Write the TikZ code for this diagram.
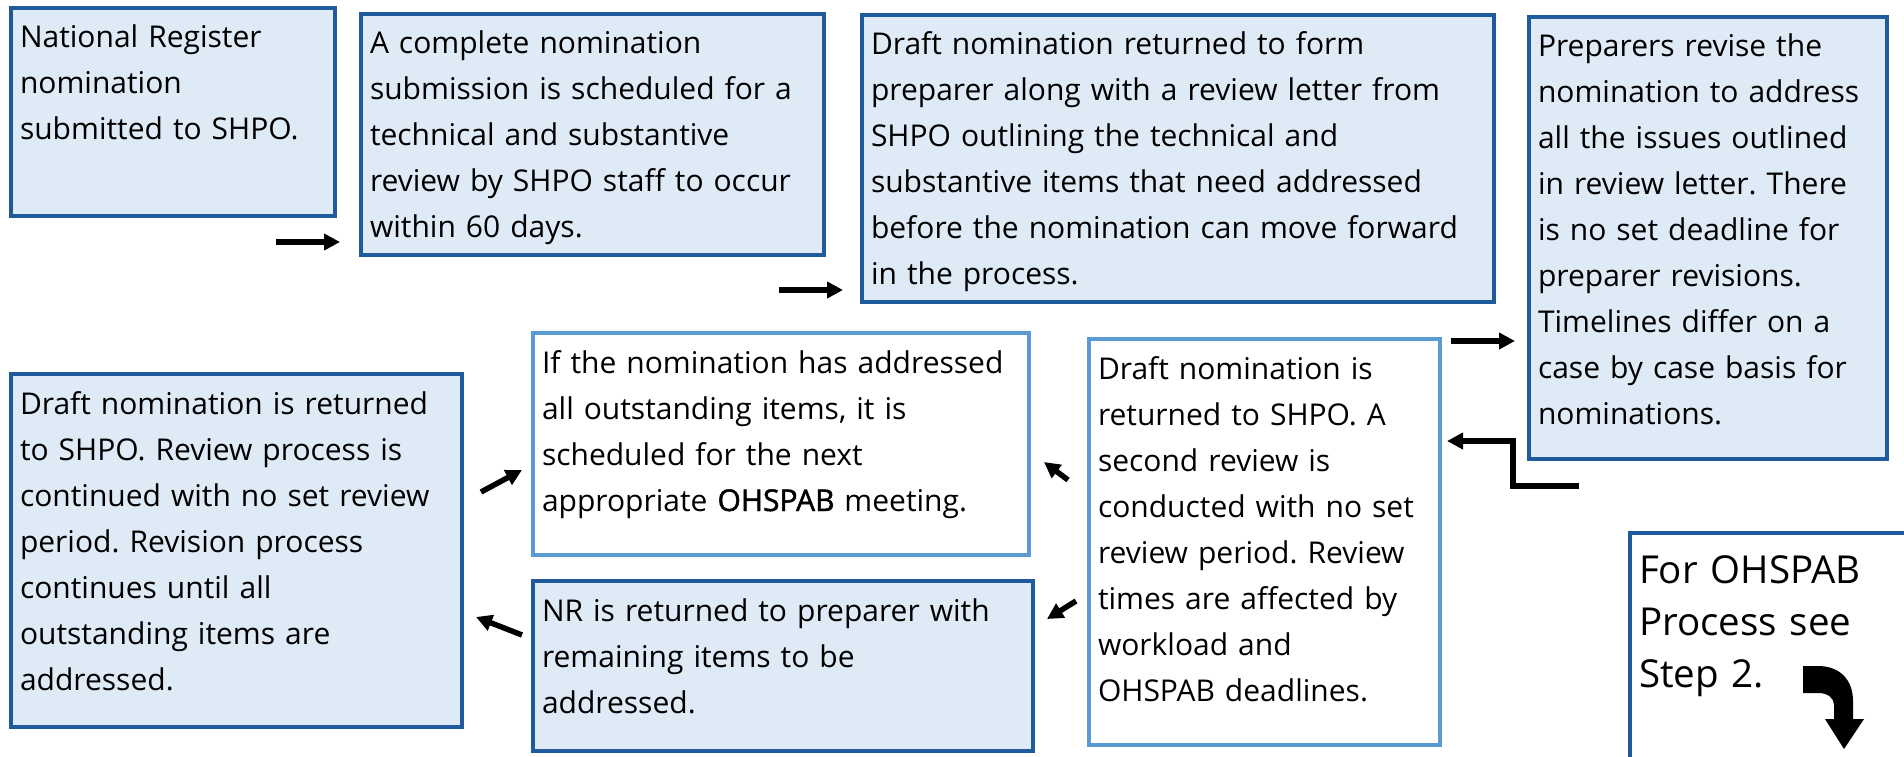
\documentclass[tikz,border=0pt]{standalone}
\usepackage{fontspec}
\setmainfont{Open Sans}
\newfontface\semibold{Open Sans}[FakeBold=1.6]
\usetikzlibrary{arrows.meta}

\definecolor{panefill}{HTML}{DEEAF6}
\definecolor{edgedark}{HTML}{1F5A9C}
\definecolor{edgelight}{HTML}{5B9BD5}

\tikzset{
  card/.style={anchor=north west, align=left, outer sep=0pt, inner xsep=9pt, inner ysep=18pt,
    text height=22pt, line width=3.5pt, font=\fontsize{30}{46}\selectfont},
  bluebox/.style={card, draw=edgedark, fill=panefill},
  whitebox/.style={card, draw=edgelight, fill=white},
  flow/.style={line width=5.5pt, -{Triangle[length=16pt,width=16pt]}},
}
\frenchspacing

\begin{document}
\begin{tikzpicture}[x=1pt, y=-1pt]
  \clip (0,0) rectangle (1904,757);

  % top row: submission, review, letter, revisions
  \node[bluebox, text width=306pt, text depth=150pt] (reg) at (11,8)
    {National Register\\nomination\\submitted to SHPO.};
  \node[bluebox, text width=445pt, text depth=183pt] (sub) at (361,14)
    {A complete nomination\\submission is scheduled for a\\technical and substantive\\review by SHPO staff to occur\\within 60 days.};
  \node[bluebox, text width=614pt, text depth=229pt] (form) at (862,15)
    {Draft nomination returned to form\\preparer along with a review letter from\\SHPO outlining the technical and\\substantive items that need addressed\\before the nomination can move forward\\in the process.};
  \node[bluebox, text width=340pt, text depth=384pt] (revise) at (1529,17)
    {Preparers revise the\\nomination to address\\all the issues outlined\\in review letter. There\\is no set deadline for\\preparer revisions.\\Timelines differ on a\\case by case basis for\\nominations.};

  % second round, read right to left
  \node[whitebox, text width=333pt, text depth=348pt] (second) at (1089,339)
    {Draft nomination is\\returned to SHPO. A\\second review is\\conducted with no set\\review period. Review\\times are affected by\\workload and\\OHSPAB deadlines.};
  \node[whitebox, text width=478pt, text depth=164pt] (ready) at (533,333)
    {If the nomination has addressed\\all outstanding items, it is\\scheduled for the next\\appropriate {\semibold OHSPAB} meeting.};
  \node[bluebox, text width=482pt, text depth=112pt] (back) at (533,581)
    {NR is returned to preparer with\\remaining items to be\\addressed.};
  \node[bluebox, text width=433pt, text depth=295pt] (loop) at (11,374)
    {Draft nomination is returned\\to SHPO. Review process is\\continued with no set review\\period. Revision process\\continues until all\\outstanding items are\\addressed.};

  % pointer to the next step, runs off the page corner
  \node[card, draw=edgedark, fill=white, font=\fontsize{38.5}{52}\selectfont, text height=28pt,
    inner ysep=22pt, text width=262pt, text depth=168pt] (step) at (1630,533)
    {For OHSPAB\\Process see\\Step 2.};
  \begin{scope}[shift={(step.north west)}]
    \fill (173,133) -- (188,133) .. controls (210,133) and (223,147) .. (223,168)
      -- (223,186) -- (234,186) -- (214,216) -- (195,186) -- (204,186) -- (204,172)
      .. controls (204,165) and (198,160) .. (188,160) -- (173,160) -- cycle;
  \end{scope}

  \draw[flow] ([shift={(-59,26)}]reg.south east) -- ([shift={(-21,-13)}]sub.south west);
  \draw[flow] ([shift={(-45,35)}]sub.south east) -- ([shift={(-19,-12)}]form.south west);
  \draw[flow] ([shift={(-43,39)}]form.south east) -- ([shift={(-14,-118)}]revise.south west);
  \draw[flow, line join=miter] ([shift={(50,27)}]revise.south west) -- ++(-66,0)
    |- ([shift={(7,102)}]second.north east);
  \draw[flow] ([shift={(-21,141)}]second.north west) -- ([shift={(15,129)}]ready.north east);
  \draw[flow] ([shift={(-13,262)}]second.north west) -- ([shift={(14,38)}]back.north east);
  \draw[flow] ([shift={(-11,54)}]back.north west) -- ([shift={(14,243)}]loop.north east);
  \draw[flow] ([shift={(19,118)}]loop.north east) -- ([shift={(-11,137)}]ready.north west);
\end{tikzpicture}
\end{document}
